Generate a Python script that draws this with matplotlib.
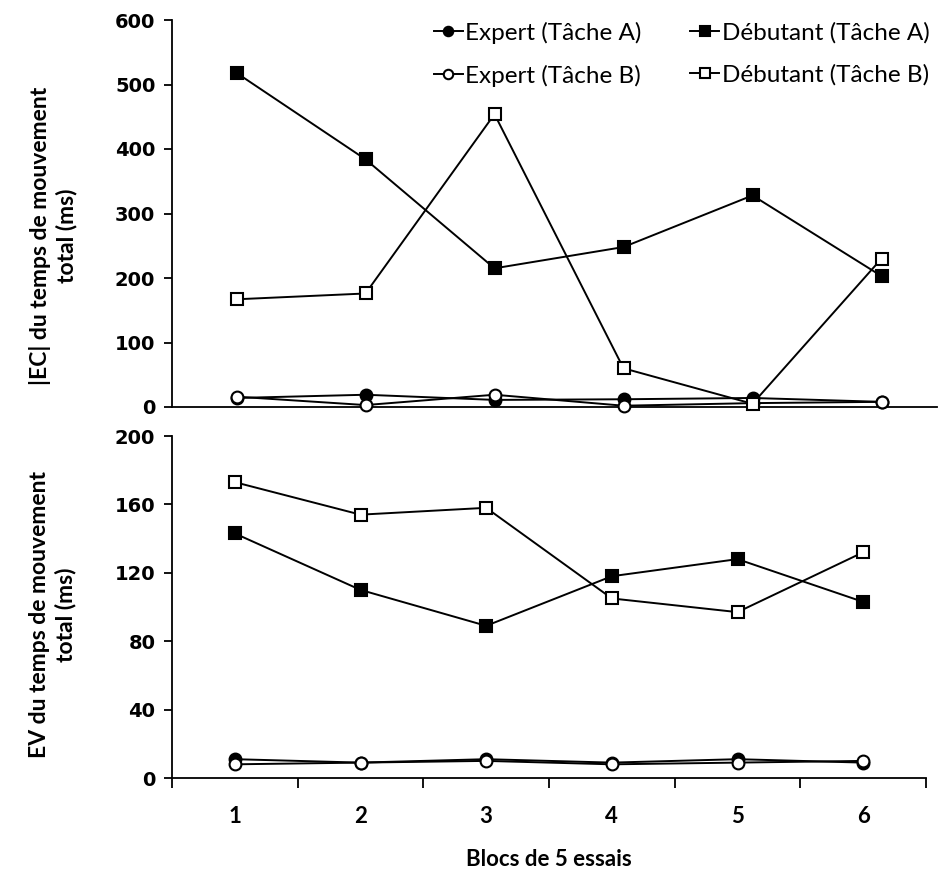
import matplotlib
matplotlib.use("Agg")
import matplotlib.pyplot as plt

blocs = [1, 2, 3, 4, 5, 6]
bloc_labels = ["1", "2", "3", "4", "5", "6"]

# |EC| du temps de mouvement total (ms)
ec_expert_a = [14, 19, 11, 12, 14, 8]
ec_debutant_a = [518, 384, 215, 248, 328, 203]
ec_expert_b = [16, 3, 19, 2, 6, 8]
ec_debutant_b = [167, 176, 454, 60, 5, 230]

# EV du temps de mouvement total (ms)
ev_expert_a = [11, 9, 11, 9, 11, 9]
ev_debutant_a = [143, 110, 89, 118, 128, 103]
ev_expert_b = [8, 9, 10, 8, 9, 10]
ev_debutant_b = [173, 154, 158, 105, 97, 132]

W, H = 938, 873
fig = plt.figure(figsize=(W / 100, H / 100), dpi=100)


def box(left, right, top, bottom):
    return [left / W, 1 - bottom / H, (right - left) / W, (bottom - top) / H]


ax1 = fig.add_axes(box(172, 937, 20, 407))
ax2 = fig.add_axes(box(172, 926, 436, 778))

styles = [
    ("Expert (Tâche A)", "o", "black"),
    ("Expert (Tâche B)", "o", "white"),
    ("Débutant (Tâche A)", "s", "black"),
    ("Débutant (Tâche B)", "s", "white"),
]

top_series = [ec_expert_a, ec_expert_b, ec_debutant_a, ec_debutant_b]
bot_series = [ev_expert_a, ev_expert_b, ev_debutant_a, ev_debutant_b]

handles = []
for (label, marker, face), vals in zip(styles, top_series):
    h, = ax1.plot(blocs, vals, color="black", lw=1.4, marker=marker,
                  markersize=8.5, markerfacecolor=face,
                  markeredgecolor="black", markeredgewidth=1.5,
                  label=label, clip_on=False, zorder=3)
    handles.append(h)

for (label, marker, face), vals in zip(styles, bot_series):
    ax2.plot(blocs, vals, color="black", lw=1.4, marker=marker,
             markersize=8.5, markerfacecolor=face,
             markeredgecolor="black", markeredgewidth=1.5,
             clip_on=False, zorder=3)

tick_font = {"family": "DejaVu Sans", "weight": "bold", "size": 14}
label_font = ["Lato", "DejaVu Sans"]

for ax in (ax1, ax2):
    for s in ("top", "right"):
        ax.spines[s].set_visible(False)
    ax.spines["left"].set_linewidth(1.3)
    ax.spines["bottom"].set_linewidth(1.3)
    ax.tick_params(axis="y", direction="out", length=6, width=1.3, pad=6)

# top panel
ax1.set_xlim(0.5, 0.5 + (937 - 172) / 129.0)
ax1.set_ylim(0, 600)
ax1.set_yticks(range(0, 601, 100))
ax1.set_yticklabels([str(v) for v in range(0, 601, 100)], fontdict=tick_font)
ax1.set_xticks([])

# bottom panel
ax2.set_xlim(0.5, 6.5)
ax2.set_ylim(0, 200)
ax2.set_yticks(range(0, 201, 40))
ax2.set_yticklabels([str(v) for v in range(0, 201, 40)], fontdict=tick_font)
ax2.set_xticks([b + 0.5 for b in [0] + blocs], minor=False)
ax2.set_xticklabels([])
ax2.tick_params(axis="x", direction="out", length=7, width=1.3)
ax2.set_xticks(blocs, minor=True)
ax2.set_xticklabels(bloc_labels, minor=True, family=label_font,
                    fontweight="bold", fontsize=16)
ax2.tick_params(axis="x", which="minor", length=0, pad=20)

ax2.set_xlabel("Blocs de 5 essais", family=label_font, fontweight="bold",
               fontsize=16, labelpad=16)

fig.text(53 / W, 1 - 236 / H, "|EC| du temps de mouvement\ntotal (ms)",
         rotation=90, ha="center", va="center", multialignment="center",
         family=label_font, fontweight="bold", fontsize=16.5, linespacing=1.25)
fig.text(53 / W, 1 - 615 / H, "EV du temps de mouvement\ntotal (ms)",
         rotation=90, ha="center", va="center", multialignment="center",
         family=label_font, fontweight="bold", fontsize=16.5, linespacing=1.25)

ax1.legend(handles=handles, ncol=2, loc="upper left",
           bbox_to_anchor=(424 / W, 1 - 12 / H),
           bbox_transform=fig.transFigure, frameon=False,
           prop={"family": label_font, "size": 17.5},
           handlelength=1.2, handletextpad=0.1, columnspacing=2.0,
           labelspacing=0.85, markerscale=0.8, borderaxespad=0)

fig.savefig("out.png", dpi=100)
